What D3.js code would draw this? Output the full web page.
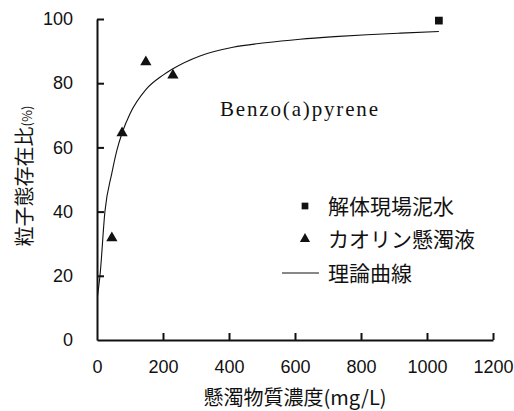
<!DOCTYPE html>
<html>
<head>
<meta charset="utf-8">
<script src="https://cdn.jsdelivr.net/npm/d3@7"></script>
<style>
  body { margin: 0; background: #fff; }
  text { fill: #111; }
</style>
</head>
<body>
<div id="chart"></div>
<script>
// values
const siteConc = [1036];          // 解体現場泥水 (mg/L)
const siteRatio = [99.5];
const kaolinConc = [45, 76, 148, 230];  // カオリン懸濁液
const kaolinRatio = [31.8, 64.5, 86.6, 82.5];
// theory curve, points
const curveConc = [2, 9, 24, 45, 60, 76, 100, 148, 200, 230, 312, 412, 510, 615, 720, 818, 920, 1036];
const curveRatio = [14, 20, 40, 52, 59, 64.5, 70.5, 78, 82.5, 84.5, 88.5, 91.2, 92.6, 93.7, 94.5, 95.1, 95.6, 96.1];
const xTicks = [0, 200, 400, 600, 800, 1000, 1200];
const yTicks = [0, 20, 40, 60, 80, 100];
const legendLabels = ["解体現場泥水", "カオリン懸濁液", "理論曲線"];

const width = 514, height = 411;
const margin = {left: 97, right: 21, top: 19, bottom: 71};

const svg = d3.select("#chart").append("svg")
    .attr("width", width)
    .attr("height", height);

const x = d3.scaleLinear().domain([0, 1200]).range([margin.left, width - margin.right]);
const y = d3.scaleLinear().domain([0, 100]).range([height - margin.bottom, margin.top]);

const cjk = "'Noto Sans CJK JP', 'Noto Sans', sans-serif";
const num = "'Liberation Sans', Arial, sans-serif";

// axes (ticks point inward, like the original)
const xAxis = svg.append("g")
    .attr("transform", `translate(0,${y(0)})`)
    .call(d3.axisBottom(x).tickValues(xTicks).tickFormat(d3.format("d"))
        .tickSizeInner(-7).tickSizeOuter(0).tickPadding(20));
const yAxis = svg.append("g")
    .attr("transform", `translate(${x(0)},0)`)
    .call(d3.axisLeft(y).tickValues(yTicks).tickFormat(d3.format("d"))
        .tickSizeInner(-7).tickSizeOuter(0).tickPadding(24));

[xAxis, yAxis].forEach(function(g) {
    g.select(".domain").attr("stroke", "#111").attr("stroke-width", 2);
    g.selectAll(".tick line").attr("stroke", "#111").attr("stroke-width", 2);
    g.selectAll(".tick text")
        .attr("font-family", num)
        .attr("font-size", 18)
        .attr("fill", "#111");
});
yAxis.selectAll(".tick").filter(d => d === 0).select("line").remove();
xAxis.selectAll(".tick").filter(d => d === 0).select("line").remove();

// theory curve
const line = d3.line()
    .x(d => x(d[0]))
    .y(d => y(d[1]))
    .curve(d3.curveMonotoneX);

svg.append("path")
    .datum(d3.zip(curveConc, curveRatio))
    .attr("fill", "none")
    .attr("stroke", "#111")
    .attr("stroke-width", 1.1)
    .attr("d", line);

// points
const square = d3.symbol().type(d3.symbolSquare).size(60);
const triangle = d3.symbol().type(d3.symbolTriangle).size(55);

svg.append("g").selectAll("path")
    .data(d3.zip(siteConc, siteRatio))
    .join("path")
    .attr("d", square)
    .attr("fill", "#111")
    .attr("transform", d => `translate(${x(d[0])},${y(d[1])})`);

svg.append("g").selectAll("path")
    .data(d3.zip(kaolinConc, kaolinRatio))
    .join("path")
    .attr("d", triangle)
    .attr("fill", "#111")
    .attr("transform", d => `translate(${x(d[0])},${y(d[1])})`);

// compound label
svg.append("text")
    .attr("x", 220)
    .attr("y", 116)
    .attr("font-family", "'Liberation Serif', 'DejaVu Serif', serif")
    .attr("font-size", 21)
    .attr("textLength", 158)
    .attr("lengthAdjust", "spacing")
    .text("Benzo(a)pyrene");

// legend
const legend = svg.append("g");
const rowY = [206, 239, 273];
legend.append("path").attr("d", d3.symbol().type(d3.symbolSquare).size(45))
    .attr("fill", "#111").attr("transform", `translate(305,${rowY[0]})`);
legend.append("path").attr("d", d3.symbol().type(d3.symbolTriangle).size(45))
    .attr("fill", "#111").attr("transform", `translate(305,${rowY[1]})`);
legend.append("line")
    .attr("x1", 282).attr("x2", 319)
    .attr("y1", rowY[2]).attr("y2", rowY[2])
    .attr("stroke", "#111").attr("stroke-width", 1);
legend.selectAll("text")
    .data(legendLabels)
    .join("text")
    .attr("x", 328)
    .attr("y", (d, i) => rowY[i])
    .attr("dy", "0.36em")
    .attr("font-family", cjk)
    .attr("font-size", 21)
    .text(d => d);

// axis titles
svg.append("text")
    .attr("x", (x(0) + x(1200)) / 2)
    .attr("y", 405)
    .attr("text-anchor", "middle")
    .attr("font-family", cjk)
    .attr("font-size", 20)
    .text("懸濁物質濃度(mg/L)");

const yTitle = svg.append("text")
    .attr("transform", "translate(32,176) rotate(-90)")
    .attr("text-anchor", "middle")
    .attr("font-family", cjk)
    .attr("font-size", 20);
yTitle.append("tspan").text("粒子態存在比");
yTitle.append("tspan").attr("font-size", 13).text("(%)");
</script>
</body>
</html>
